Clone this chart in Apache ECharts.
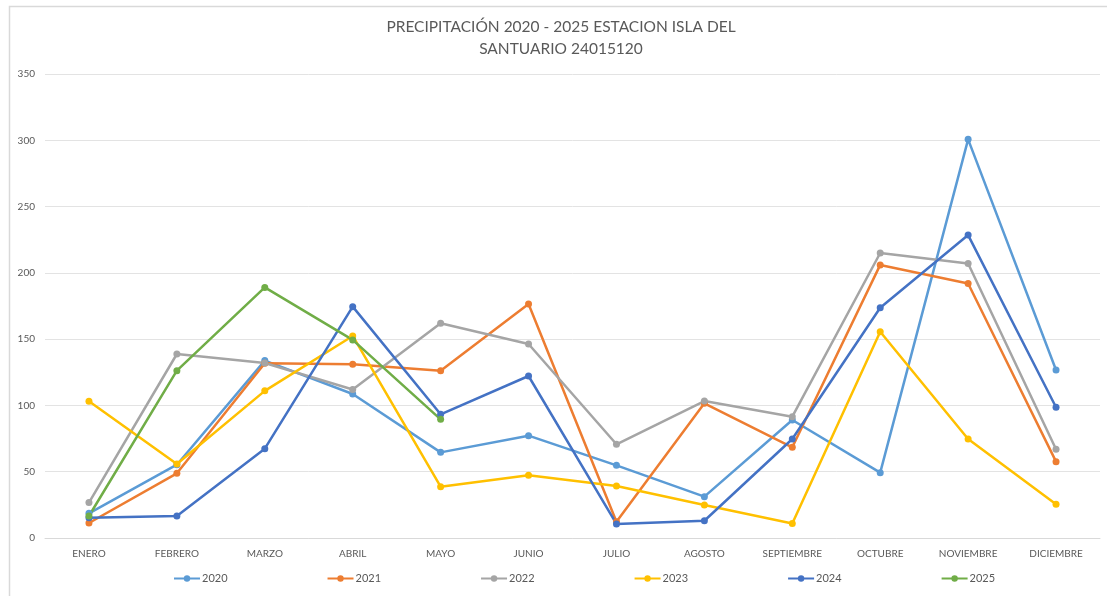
<!DOCTYPE html>
<html>
<head>
<meta charset="utf-8">
<script src="https://cdn.jsdelivr.net/npm/echarts@6/dist/echarts.min.js"></script>
<style>
html,body{margin:0;padding:0;background:#fff;}
#chart{width:1107px;height:596px;}
</style>
</head>
<body>
<div id="chart"></div>
<script>
const categories = ['ENERO','FEBRERO','MARZO','ABRIL','MAYO','JUNIO','JULIO','AGOSTO','SEPTIEMBRE','OCTUBRE','NOVIEMBRE','DICIEMBRE'];
const yTicks = { min: 0, max: 350, interval: 50 };
const s2020 = [18.6, 55.3, 133.8, 108.6, 64.6, 77.2, 54.8, 31.2, 89, 49.3, 300.7, 126.7];
const s2021 = [11.3, 48.8, 131.8, 131, 126.2, 176.5, 12.3, 101.6, 68.4, 206, 192, 57.6];
const s2022 = [26.7, 138.8, 132, 112, 162, 146.3, 70.7, 103.3, 91.5, 215, 207, 67];
const s2023 = [103.1, 55.8, 111, 152.4, 38.7, 47.3, 39.2, 24.9, 11, 155.6, 74.7, 25.4];
const s2024 = [15.3, 16.6, 67.4, 174.5, 93.3, 122.2, 10.6, 13, 74.7, 173.7, 228.5, 98.6];
const s2025 = [16.6, 126.2, 189, 149.4, 89.5];
const seriesNames = ['2020','2021','2022','2023','2024','2025'];
const seriesData = [s2020, s2021, s2022, s2023, s2024, s2025];
const colors = ['#5B9BD5','#ED7D31','#A5A5A5','#FFC000','#4472C4','#70AD47'];
const titleText = 'PRECIPITACIÓN 2020 - 2025 ESTACION ISLA DEL\nSANTUARIO 24015120';

const FONT = 'Lato, "Open Sans", sans-serif';
const chart = echarts.init(document.getElementById('chart'));
chart.setOption({
  animation: false,
  backgroundColor: '#ffffff',
  color: colors,
  graphic: [{
    type: 'rect', left: 7, top: 4, silent: true, z: -1,
    shape: { width: 1120, height: 610 },
    style: { fill: 'none', stroke: '#d9d9d9', lineWidth: 1.5 }
  }, {
    type: 'text', x: 561, y: 16, silent: true,
    style: {
      text: titleText, align: 'center', verticalAlign: 'top',
      font: '15.5px ' + FONT, fill: '#595959', lineHeight: 22
    }
  }],
  legend: {
    bottom: 7, left: 168,
    itemWidth: 26, itemHeight: 8, itemGap: 99,
    textStyle: { fontFamily: FONT, fontSize: 11, color: '#595959', padding: [0,0,0,-3] },
    data: seriesNames
  },
  grid: { left: 45, right: 7, top: 74, bottom: 58, containLabel: false },
  xAxis: {
    type: 'category', data: categories, boundaryGap: true,
    axisLine: { show: true, lineStyle: { color: '#d9d9d9' } },
    axisTick: { show: false },
    axisLabel: { fontFamily: FONT, fontSize: 10, color: '#595959', margin: 11, interval: 0 }
  },
  yAxis: {
    type: 'value', min: yTicks.min, max: yTicks.max, interval: yTicks.interval,
    axisLine: { show: false }, axisTick: { show: false },
    axisLabel: { fontFamily: FONT, fontSize: 10, color: '#595959', margin: 10 },
    splitLine: { lineStyle: { color: '#e3e3e3', width: 1 } }
  },
  series: seriesNames.map((n, i) => ({
    name: n, type: 'line', data: seriesData[i],
    symbol: 'circle', symbolSize: 7,
    lineStyle: { width: 2.5, color: colors[i] },
    itemStyle: { color: colors[i] }
  }))
});
</script>
</body>
</html>
